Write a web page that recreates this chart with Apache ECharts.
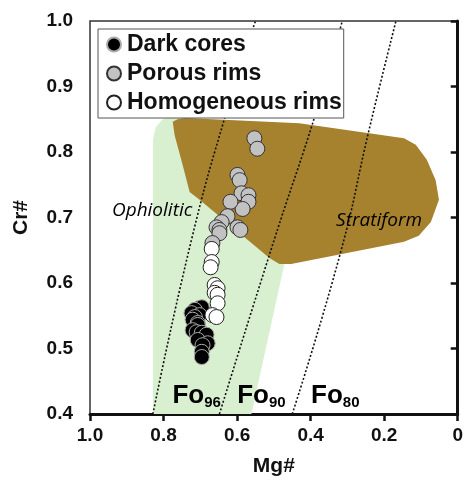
<!DOCTYPE html>
<html>
<head>
<meta charset="utf-8">
<script src="https://cdn.jsdelivr.net/npm/echarts@6/dist/echarts.min.js"></script>
<style>
  html, body { margin: 0; padding: 0; background: #fff; }
  #chart { width: 466px; height: 482px; }
</style>
</head>
<body>
<div id="chart"></div>
<script>
// Mg# / Cr# pairs
const darkCores = [
  [0.702, 0.562], [0.696, 0.563], [0.715, 0.559], [0.724, 0.554], [0.702, 0.551],
  [0.715, 0.548], [0.721, 0.544], [0.707, 0.539], [0.707, 0.536], [0.721, 0.528],
  [0.710, 0.525], [0.696, 0.524], [0.683, 0.521], [0.707, 0.513], [0.680, 0.508],
  [0.694, 0.505], [0.696, 0.495], [0.696, 0.487]
];
const porousRims = [
  [0.553, 0.821], [0.545, 0.805], [0.599, 0.765], [0.593, 0.757], [0.588, 0.737],
  [0.569, 0.734], [0.569, 0.724], [0.585, 0.713], [0.618, 0.724], [0.626, 0.702],
  [0.642, 0.693], [0.656, 0.685], [0.648, 0.681], [0.599, 0.685], [0.591, 0.681],
  [0.648, 0.676], [0.667, 0.661]
];
const homogeneousRims = [
  [0.669, 0.652], [0.669, 0.632], [0.672, 0.624], [0.661, 0.597], [0.653, 0.592],
  [0.661, 0.585], [0.653, 0.582], [0.653, 0.569], [0.667, 0.551], [0.656, 0.548]
];

// field outlines (Mg#, Cr#)
const ophioliticField = [
  [0.829, 0.40], [0.829, 0.818], [0.821, 0.838], [0.802, 0.850], [0.775, 0.856],
  [0.715, 0.855], [0.702, 0.841], [0.453, 0.666], [0.472, 0.627], [0.561, 0.40]
];
const stratiformField = [
  [0.762, 0.850], [0.775, 0.846], [0.770, 0.826], [0.748, 0.780], [0.729, 0.739],
  [0.702, 0.727], [0.512, 0.638], [0.485, 0.629], [0.453, 0.629], [0.146, 0.663],
  [0.106, 0.672], [0.073, 0.693], [0.051, 0.727], [0.060, 0.757], [0.084, 0.788],
  [0.114, 0.811], [0.146, 0.821], [0.431, 0.844], [0.621, 0.849], [0.743, 0.852]
];

// olivine isopleths
const fo96 = [[0.829, 0.40], [0.724, 0.666], [0.629, 0.861], [0.550, 1.0]];
const fo90 = [[0.648, 0.40], [0.499, 0.666], [0.385, 0.861], [0.314, 1.0]];
const fo80 = [[0.450, 0.40], [0.317, 0.650], [0.241, 0.834], [0.168, 1.0]];

const fieldLabels = [
  { name: 'Ophiolitic', value: [0.831, 0.711] },
  { name: 'Stratiform', value: [0.214, 0.696] }
];
const foLabels = [
  { name: '96', value: [0.710, 0.428] },
  { name: '90', value: [0.534, 0.428] },
  { name: '80', value: [0.333, 0.428] }
];

const chart = echarts.init(document.getElementById('chart'));

function fieldSeries(points, color, z) {
  return {
    type: 'custom',
    z: z,
    silent: true,
    data: points,
    encode: { x: 0, y: 1 },
    renderItem: function (params, api) {
      if (params.dataIndex !== 0) return null;
      return {
        type: 'polygon',
        shape: { points: points.map(p => api.coord(p)) },
        style: { fill: color }
      };
    }
  };
}

function isopleth(points) {
  return {
    type: 'line',
    z: 3,
    silent: true,
    smooth: true,
    symbol: 'none',
    data: points,
    lineStyle: { color: '#111', width: 1.6, type: [2, 2] }
  };
}

function scatter(name, data, fill, border) {
  return {
    name: name,
    type: 'scatter',
    z: 5,
    symbol: 'circle',
    symbolSize: 15,
    data: data,
    itemStyle: { color: fill, borderColor: border, borderWidth: 1, opacity: 1 }
  };
}

const axisFont = { color: '#111', fontSize: 19, fontWeight: 'bold', fontFamily: 'Liberation Sans' };

chart.setOption({
  animation: false,
  backgroundColor: '#fff',
  grid: {
    left: 90, right: 7, top: 21, bottom: 68,
    show: true, borderColor: '#333', borderWidth: 1.5
  },
  legend: {
    data: ['Dark cores', 'Porous rims', 'Homogeneous rims'],
    orient: 'vertical',
    left: 98, top: 29,
    padding: [4, 2, 4, 8],
    itemGap: 6,
    itemWidth: 14, itemHeight: 14,
    backgroundColor: '#fff',
    borderColor: '#555', borderWidth: 1,
    textStyle: {
      color: '#111', fontSize: 23, fontWeight: 'bold', fontFamily: 'Liberation Sans',
      lineHeight: 20, padding: [0, 0, 0, 1]
    },
    z: 10
  },
  xAxis: {
    type: 'value',
    min: 0, max: 1, interval: 0.2,
    inverse: true,
    name: 'Mg#',
    nameLocation: 'middle',
    nameGap: 42,
    nameTextStyle: { color: '#111', fontSize: 21, fontWeight: 'bold', fontFamily: 'Liberation Sans' },
    axisLine: { lineStyle: { color: '#111', width: 3 } },
    axisTick: { length: 7, lineStyle: { color: '#111', width: 2.5 } },
    axisLabel: Object.assign({ margin: 12, formatter: v => v === 0 ? '0' : v.toFixed(1) }, axisFont),
    splitLine: { show: false }
  },
  yAxis: {
    type: 'value',
    min: 0.4, max: 1.0, interval: 0.1,
    name: 'Cr#',
    nameLocation: 'middle',
    nameGap: 58,
    nameTextStyle: { color: '#111', fontSize: 21, fontWeight: 'bold', fontFamily: 'Liberation Sans' },
    axisLine: { lineStyle: { color: '#111', width: 3 } },
    axisTick: { length: 7, lineStyle: { color: '#111', width: 2.5 } },
    axisLabel: Object.assign({ margin: 17, formatter: v => v.toFixed(1) }, axisFont),
    splitLine: { show: false }
  },
  series: [
    fieldSeries(ophioliticField, '#d9f0d0', 1),
    fieldSeries(stratiformField, '#a6812e', 2),
    isopleth(fo96),
    isopleth(fo90),
    isopleth(fo80),
    scatter('Dark cores', darkCores, '#000', '#aaa'),
    scatter('Porous rims', porousRims, '#c2c2c2', '#333'),
    scatter('Homogeneous rims', homogeneousRims, '#fff', '#222'),
    {
      type: 'scatter',
      z: 6,
      silent: true,
      symbolSize: 0,
      itemStyle: { opacity: 1 },
      data: fieldLabels,
      label: {
        show: true, position: 'inside', formatter: '{b}',
        color: '#000', textBorderWidth: 0,
        fontSize: 19, fontStyle: 'italic', fontFamily: 'Open Sans'
      }
    },
    {
      type: 'scatter',
      z: 6,
      silent: true,
      symbolSize: 0,
      itemStyle: { opacity: 1 },
      data: foLabels,
      label: {
        show: true, position: 'inside', color: '#000', textBorderWidth: 0,
        formatter: p => '{fo|Fo}{sub|' + p.name + '}',
        rich: {
          fo: { color: '#000', fontSize: 26, fontWeight: 'bold', fontFamily: 'Liberation Sans', lineHeight: 30 },
          sub: { color: '#000', fontSize: 15, fontWeight: 'bold', fontFamily: 'Liberation Sans',
                 lineHeight: 30, verticalAlign: 'bottom', padding: [12, 0, 0, 0] }
        }
      }
    }
  ]
});
</script>
</body>
</html>
